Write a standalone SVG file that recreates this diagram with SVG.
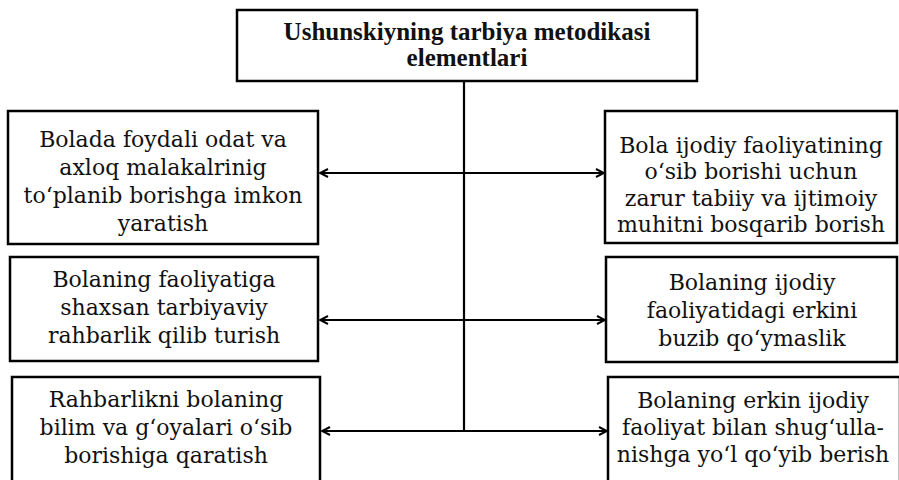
<svg xmlns="http://www.w3.org/2000/svg" width="899" height="480" viewBox="0 0 899 480">
<style>
.box{fill:#fff;stroke:#000;stroke-width:2.5}
.t{font-family:"DejaVu Serif","Liberation Serif",serif;font-size:22px;fill:#111;text-anchor:middle}
.h{font-family:"Liberation Serif","DejaVu Serif",serif;font-size:25px;font-weight:bold;fill:#111;text-anchor:middle}
.c{fill:none;stroke:#000;stroke-width:2.2}
</style>
<defs>
<marker id="ah" viewBox="0 0 10 10" refX="9" refY="5" markerWidth="10" markerHeight="10" markerUnits="userSpaceOnUse" orient="auto-start-reverse">
<path d="M1,1 L9,5 L1,9" fill="none" stroke="#000" stroke-width="2"/>
</marker>
</defs>
<rect width="899" height="480" fill="#fff"/>
<g id="connectors">
<line class="c" x1="464" y1="81" x2="464" y2="431"/>
<line class="c" x1="320" y1="173" x2="604" y2="173" marker-start="url(#ah)" marker-end="url(#ah)"/>
<line class="c" x1="320" y1="320" x2="605" y2="320" marker-start="url(#ah)" marker-end="url(#ah)"/>
<line class="c" x1="322" y1="431" x2="607" y2="431" marker-start="url(#ah)" marker-end="url(#ah)"/>
</g>
<g id="title">
<rect class="box" x="237" y="10" width="460" height="71"/>
<text class="h" x="467" y="40">Ushunskiyning tarbiya metodikasi</text>
<text class="h" x="467" y="66">elementlari</text>
</g>
<g id="left1">
<rect class="box" x="8" y="111" width="310" height="133"/>
<text class="t" x="163" y="147">Bolada foydali odat va</text>
<text class="t" x="163" y="175">axloq  malakalrinig</text>
<text class="t" x="163" y="203">to‘planib borishga imkon</text>
<text class="t" x="163" y="231">yaratish</text>
</g>
<g id="left2">
<rect class="box" x="10" y="257" width="308" height="104"/>
<text class="t" x="164" y="287">Bolaning faoliyatiga</text>
<text class="t" x="164" y="315">shaxsan  tarbiyaviy</text>
<text class="t" x="164" y="343">rahbarlik qilib turish</text>
</g>
<g id="left3">
<rect class="box" x="12" y="377" width="308" height="115"/>
<text class="t" x="166" y="407">Rahbarlikni bolaning</text>
<text class="t" x="166" y="435">bilim va g‘oyalari o‘sib</text>
<text class="t" x="166" y="463">borishiga qaratish</text>
</g>
<g id="right1">
<rect class="box" x="605" y="111" width="292" height="132"/>
<text class="t" x="751" y="153">Bola ijodiy faoliyatining</text>
<text class="t" x="751" y="179">o‘sib  borishi  uchun</text>
<text class="t" x="751" y="206">zarur tabiiy va ijtimoiy</text>
<text class="t" x="751" y="232">muhitni  bosqarib  borish</text>
</g>
<g id="right2">
<rect class="box" x="606" y="257" width="291" height="105"/>
<text class="t" x="752" y="290">Bolaning  ijodiy</text>
<text class="t" x="752" y="318">faoliyatidagi  erkini</text>
<text class="t" x="752" y="346">buzib  qo‘ymaslik</text>
</g>
<g id="right3">
<rect class="box" x="608" y="377" width="292" height="115"/>
<text class="t" x="753" y="408">Bolaning  erkin  ijodiy</text>
<text class="t" x="753" y="435">faoliyat bilan shug‘ulla-</text>
<text class="t" x="753" y="462">nishga yo‘l qo‘yib berish</text>
</g>
</svg>
